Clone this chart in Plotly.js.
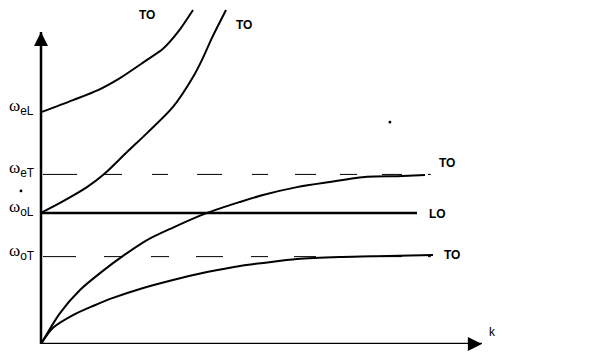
<!DOCTYPE html>
<html>
<head>
<meta charset="utf-8">
<script src="https://cdn.plot.ly/plotly-3.0.1.min.js"></script>
<style>html,body{margin:0;padding:0;background:#fff;}#chart{width:599px;height:353px;}</style>
</head>
<body>
<div id="chart"></div>
<script>
// Characteristic frequency levels (arbitrary units)
const levelNames = ["ω", "ω", "ω", "ω"];
const levelSubs = ["eL", "eT", "oL", "oT"];
const levelValues = [6.74, 4.93, 3.81, 2.54];

// Branch 1 (upper TO, starts at ωeL)
const k1 = [0, 0.727, 1.295, 1.795, 2.409, 2.773, 3.114, 3.455];
const w1 = [6.74, 7.09, 7.38, 7.73, 8.26, 8.58, 9.07, 9.71];
// Branch 2 (TO, starts at ωoL)
const k2 = [0, 0.432, 1.045, 1.409, 1.955, 2.409, 3.0, 3.455, 3.659, 3.886, 4.205];
const w2 = [3.81, 4.10, 4.56, 4.91, 5.58, 6.13, 6.89, 7.76, 8.26, 8.90, 9.71];
// Branch 3 (TO, from origin towards ωeT)
const k3 = [0, 0.432, 0.886, 1.341, 1.864, 2.409, 2.977, 3.773, 4.523, 5.045, 5.818, 6.568, 7.409, 8.091, 8.727];
const w3 = [0, 0.90, 1.57, 2.06, 2.56, 3.02, 3.37, 3.81, 4.13, 4.33, 4.56, 4.71, 4.86, 4.88, 4.91];
// Branch 4 (TO, from origin towards ωoT)
const k4 = [0, 0.273, 0.727, 1.182, 1.636, 2.25, 3.0, 3.773, 4.523, 5.045, 5.818, 6.795, 7.864, 8.909];
const w4 = [0, 0.47, 0.84, 1.105, 1.34, 1.60, 1.86, 2.09, 2.27, 2.355, 2.47, 2.53, 2.56, 2.59];
// LO branch (flat at ωoL)
const kLO = [0, 8.545];
// Dashed asymptotes
const kDash = [0, 8.86];

// Branch labels
const labelText = ["TO", "TO", "TO", "LO", "TO"];
const labelK = [2.40, 4.614, 9.227, 9.02, 9.34];
const labelW = [9.55, 9.27, 5.26, 3.78, 2.59];

// Axis extents
const kMax = 10.02, wMax = 9.07;
const axisK = [0, 0, kMax];
const axisW = [wMax, 0, 0];
// Stray specks in the drawing
const speckK = [7.93, -0.455];
const speckW = [6.45, 4.45];

const black = "#000";
const traces = [
  {x: axisK, y: axisW, mode: "lines", line: {color: black, width: 2.5}},
  {x: [0], y: [wMax], mode: "markers", marker: {symbol: "arrow-up", size: 14, color: black, line: {width: 0}}, cliponaxis: false},
  {x: [kMax], y: [0], mode: "markers", marker: {symbol: "arrow-right", size: 14, color: black, line: {width: 0}}, cliponaxis: false},
  {x: k1, y: w1, mode: "lines", line: {color: black, width: 2, shape: "spline", smoothing: 0.8}},
  {x: k2, y: w2, mode: "lines", line: {color: black, width: 2, shape: "spline", smoothing: 0.8}},
  {x: k3, y: w3, mode: "lines", line: {color: black, width: 2, shape: "spline", smoothing: 0.8}},
  {x: k4, y: w4, mode: "lines", line: {color: black, width: 2, shape: "spline", smoothing: 0.8}},
  {x: kLO, y: [levelValues[2], levelValues[2]], mode: "lines", line: {color: black, width: 2.5}},
  {x: kDash, y: [levelValues[1], levelValues[1]], mode: "lines",
   line: {color: black, width: 1, dash: "0px,2px,34px,26px,19px,30px,16px,29px,25px,30px,16px,27px,21px,24px,17px,25px,20px,26px,4px,40px"}},
  {x: kDash, y: [levelValues[3], levelValues[3]], mode: "lines",
   line: {color: black, width: 1, dash: "0px,2px,33px,28px,19px,28px,18px,27px,27px,28px,17px,26px,22px,24px,17px,25px,20px,26px,4px,40px"}},
  {x: speckK, y: speckW, mode: "markers", marker: {color: black, size: 2.5, symbol: "square"}, cliponaxis: false}
];

const annotations = [];
// level labels
levelNames.forEach((t, i) => {
  annotations.push({x: -0.773, y: levelValues[i], xref: "x", yref: "y", xanchor: "left", yanchor: "middle",
    yshift: 5, showarrow: false,
    text: t + "<sub><span style=\"font-family:Liberation Sans\">" + levelSubs[i] + "</span></sub>",
    font: {family: "Liberation Serif", size: 17, color: black}});
});
// branch labels
labelText.forEach((t, i) => {
  annotations.push({x: labelK[i], y: labelW[i], xref: "x", yref: "y", xanchor: "center", yanchor: "middle",
    showarrow: false, text: "<b>" + t + "</b>", font: {family: "Liberation Sans", size: 12, color: black}});
});
annotations.push({x: 10.27, y: 0.35, xref: "x", yref: "y", xanchor: "center", yanchor: "middle",
  showarrow: false, text: "k", font: {family: "Liberation Sans", size: 12, color: black}});

// k = 0 sits 41 px from the left edge, 44 px per unit of k
const layout = {
  width: 599, height: 353,
  margin: {l: 0, r: 0, t: 0, b: 9, pad: 0},
  paper_bgcolor: "#fff", plot_bgcolor: "#fff",
  showlegend: false,
  xaxis: {range: [-41 / 44, (599 - 41) / 44], visible: false, fixedrange: true},
  yaxis: {range: [0, 10], visible: false, fixedrange: true},
  annotations: annotations
};

Plotly.newPlot("chart", traces.map(t => Object.assign({hoverinfo: "skip"}, t)), layout, {staticPlot: true, displayModeBar: false});
</script>
</body>
</html>
